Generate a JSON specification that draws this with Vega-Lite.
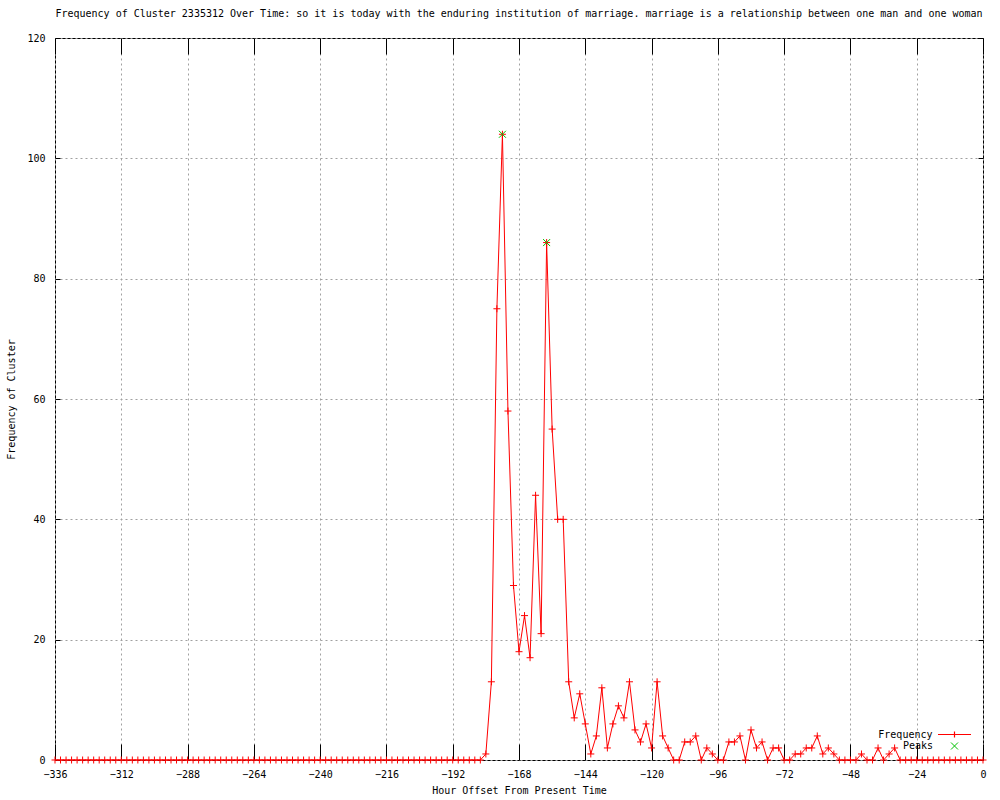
{
  "$schema": "https://vega.github.io/schema/vega-lite/v6.json",
  "width": 928,
  "height": 722,
  "autosize": {"type": "none"},
  "padding": {"left": 55, "top": 38, "right": 17, "bottom": 40},
  "background": "white",
  "title": {
    "text": "Frequency of Cluster 2335312 Over Time: so it is today with the enduring institution of marriage. marriage is a relationship between one man and one woman",
    "font": "DejaVu Sans Mono",
    "fontSize": 10,
    "fontWeight": "normal",
    "color": "black",
    "anchor": "middle",
    "frame": "group",
    "offset": 14
  },
  "config": {
    "view": {"stroke": "black", "strokeWidth": 1},
    "font": "DejaVu Sans Mono"
  },
  "datasets": {
    "freq": [
      {"hour": -336, "frequency": 0}, {"hour": -334, "frequency": 0}, {"hour": -332, "frequency": 0}, {"hour": -330, "frequency": 0},
      {"hour": -328, "frequency": 0}, {"hour": -326, "frequency": 0}, {"hour": -324, "frequency": 0}, {"hour": -322, "frequency": 0},
      {"hour": -320, "frequency": 0}, {"hour": -318, "frequency": 0}, {"hour": -316, "frequency": 0}, {"hour": -314, "frequency": 0},
      {"hour": -312, "frequency": 0}, {"hour": -310, "frequency": 0}, {"hour": -308, "frequency": 0}, {"hour": -306, "frequency": 0},
      {"hour": -304, "frequency": 0}, {"hour": -302, "frequency": 0}, {"hour": -300, "frequency": 0}, {"hour": -298, "frequency": 0},
      {"hour": -296, "frequency": 0}, {"hour": -294, "frequency": 0}, {"hour": -292, "frequency": 0}, {"hour": -290, "frequency": 0},
      {"hour": -288, "frequency": 0}, {"hour": -286, "frequency": 0}, {"hour": -284, "frequency": 0}, {"hour": -282, "frequency": 0},
      {"hour": -280, "frequency": 0}, {"hour": -278, "frequency": 0}, {"hour": -276, "frequency": 0}, {"hour": -274, "frequency": 0},
      {"hour": -272, "frequency": 0}, {"hour": -270, "frequency": 0}, {"hour": -268, "frequency": 0}, {"hour": -266, "frequency": 0},
      {"hour": -264, "frequency": 0}, {"hour": -262, "frequency": 0}, {"hour": -260, "frequency": 0}, {"hour": -258, "frequency": 0},
      {"hour": -256, "frequency": 0}, {"hour": -254, "frequency": 0}, {"hour": -252, "frequency": 0}, {"hour": -250, "frequency": 0},
      {"hour": -248, "frequency": 0}, {"hour": -246, "frequency": 0}, {"hour": -244, "frequency": 0}, {"hour": -242, "frequency": 0},
      {"hour": -240, "frequency": 0}, {"hour": -238, "frequency": 0}, {"hour": -236, "frequency": 0}, {"hour": -234, "frequency": 0},
      {"hour": -232, "frequency": 0}, {"hour": -230, "frequency": 0}, {"hour": -228, "frequency": 0}, {"hour": -226, "frequency": 0},
      {"hour": -224, "frequency": 0}, {"hour": -222, "frequency": 0}, {"hour": -220, "frequency": 0}, {"hour": -218, "frequency": 0},
      {"hour": -216, "frequency": 0}, {"hour": -214, "frequency": 0}, {"hour": -212, "frequency": 0}, {"hour": -210, "frequency": 0},
      {"hour": -208, "frequency": 0}, {"hour": -206, "frequency": 0}, {"hour": -204, "frequency": 0}, {"hour": -202, "frequency": 0},
      {"hour": -200, "frequency": 0}, {"hour": -198, "frequency": 0}, {"hour": -196, "frequency": 0}, {"hour": -194, "frequency": 0},
      {"hour": -192, "frequency": 0}, {"hour": -190, "frequency": 0}, {"hour": -188, "frequency": 0}, {"hour": -186, "frequency": 0},
      {"hour": -184, "frequency": 0}, {"hour": -182, "frequency": 0}, {"hour": -180, "frequency": 1}, {"hour": -178, "frequency": 13},
      {"hour": -176, "frequency": 75}, {"hour": -174, "frequency": 104}, {"hour": -172, "frequency": 58}, {"hour": -170, "frequency": 29},
      {"hour": -168, "frequency": 18}, {"hour": -166, "frequency": 24}, {"hour": -164, "frequency": 17}, {"hour": -162, "frequency": 44},
      {"hour": -160, "frequency": 21}, {"hour": -158, "frequency": 86}, {"hour": -156, "frequency": 55}, {"hour": -154, "frequency": 40},
      {"hour": -152, "frequency": 40}, {"hour": -150, "frequency": 13}, {"hour": -148, "frequency": 7}, {"hour": -146, "frequency": 11},
      {"hour": -144, "frequency": 6}, {"hour": -142, "frequency": 1}, {"hour": -140, "frequency": 4}, {"hour": -138, "frequency": 12},
      {"hour": -136, "frequency": 2}, {"hour": -134, "frequency": 6}, {"hour": -132, "frequency": 9}, {"hour": -130, "frequency": 7},
      {"hour": -128, "frequency": 13}, {"hour": -126, "frequency": 5}, {"hour": -124, "frequency": 3}, {"hour": -122, "frequency": 6},
      {"hour": -120, "frequency": 2}, {"hour": -118, "frequency": 13}, {"hour": -116, "frequency": 4}, {"hour": -114, "frequency": 2},
      {"hour": -112, "frequency": 0}, {"hour": -110, "frequency": 0}, {"hour": -108, "frequency": 3}, {"hour": -106, "frequency": 3},
      {"hour": -104, "frequency": 4}, {"hour": -102, "frequency": 0}, {"hour": -100, "frequency": 2}, {"hour": -98, "frequency": 1},
      {"hour": -96, "frequency": 0}, {"hour": -94, "frequency": 0}, {"hour": -92, "frequency": 3}, {"hour": -90, "frequency": 3},
      {"hour": -88, "frequency": 4}, {"hour": -86, "frequency": 0}, {"hour": -84, "frequency": 5}, {"hour": -82, "frequency": 2},
      {"hour": -80, "frequency": 3}, {"hour": -78, "frequency": 0}, {"hour": -76, "frequency": 2}, {"hour": -74, "frequency": 2},
      {"hour": -72, "frequency": 0}, {"hour": -70, "frequency": 0}, {"hour": -68, "frequency": 1}, {"hour": -66, "frequency": 1},
      {"hour": -64, "frequency": 2}, {"hour": -62, "frequency": 2}, {"hour": -60, "frequency": 4}, {"hour": -58, "frequency": 1},
      {"hour": -56, "frequency": 2}, {"hour": -54, "frequency": 1}, {"hour": -52, "frequency": 0}, {"hour": -50, "frequency": 0},
      {"hour": -48, "frequency": 0}, {"hour": -46, "frequency": 0}, {"hour": -44, "frequency": 1}, {"hour": -42, "frequency": 0},
      {"hour": -40, "frequency": 0}, {"hour": -38, "frequency": 2}, {"hour": -36, "frequency": 0}, {"hour": -34, "frequency": 1},
      {"hour": -32, "frequency": 2}, {"hour": -30, "frequency": 0}, {"hour": -28, "frequency": 0}, {"hour": -26, "frequency": 0},
      {"hour": -24, "frequency": 0}, {"hour": -22, "frequency": 0}, {"hour": -20, "frequency": 0}, {"hour": -18, "frequency": 0},
      {"hour": -16, "frequency": 0}, {"hour": -14, "frequency": 0}, {"hour": -12, "frequency": 0}, {"hour": -10, "frequency": 0},
      {"hour": -8, "frequency": 0}, {"hour": -6, "frequency": 0}, {"hour": -4, "frequency": 0}, {"hour": -2, "frequency": 0},
      {"hour": 0, "frequency": 0}
    ],
    "peaks": [
      {"hour": -174, "frequency": 104},
      {"hour": -158, "frequency": 86}
    ]
  },
  "layer": [
    {
      "data": {"name": "freq"},
      "mark": {"type": "line", "strokeWidth": 1, "interpolate": "linear", "color": "#ff0000"},
      "encoding": {
        "x": {
          "field": "hour", "type": "quantitative",
          "scale": {"domain": [-336, 0], "nice": false, "zero": false},
          "axis": {
            "orient": "bottom",
            "values": [-336, -312, -288, -264, -240, -216, -192, -168, -144, -120, -96, -72, -48, -24, 0],
            "format": "d",
            "labelFont": "DejaVu Sans Mono", "labelFontSize": 10, "labelColor": "black",
            "labelFlush": false, "labelOverlap": false,
            "ticks": true, "tickColor": "black", "tickSize": -16, "tickWidth": 1,
            "labelPadding": 25,
            "grid": true, "gridColor": "#a0a0a0", "gridDash": [2, 3], "gridWidth": 1,
            "domain": false,
            "title": "Hour Offset From Present Time",
            "titleFont": "DejaVu Sans Mono", "titleFontSize": 10, "titleFontWeight": "normal", "titleColor": "black",
            "titlePadding": 6
          }
        },
        "y": {
          "field": "frequency", "type": "quantitative",
          "scale": {"domain": [0, 120], "nice": false, "zero": true},
          "axis": {
            "orient": "left",
            "values": [0, 20, 40, 60, 80, 100, 120],
            "format": "d",
            "labelFont": "DejaVu Sans Mono", "labelFontSize": 10, "labelColor": "black",
            "labelFlush": false, "labelOverlap": false,
            "ticks": true, "tickColor": "black", "tickSize": -5, "tickWidth": 1,
            "labelPadding": 15,
            "grid": true, "gridColor": "#a0a0a0", "gridDash": [2, 3], "gridWidth": 1,
            "domain": false,
            "title": "Frequency of Cluster",
            "titleFont": "DejaVu Sans Mono", "titleFontSize": 10, "titleFontWeight": "normal", "titleColor": "black",
            "titlePadding": 10
          }
        }
      }
    },
    {
      "data": {"name": "freq"},
      "mark": {"type": "point", "shape": "M-1,0H1M0,-1V1", "size": 49, "filled": false, "strokeWidth": 1, "opacity": 1},
      "encoding": {
        "x": {"field": "hour", "type": "quantitative", "axis": null},
        "y": {"field": "frequency", "type": "quantitative", "axis": null},
        "color": {
          "datum": "Frequency",
          "scale": {"domain": ["Frequency"], "range": ["#ff0000"]},
          "legend": {
            "orient": "none", "legendX": 882, "legendY": 679,
            "title": null, "padding": 0, "symbolOffset": 0,
            "symbolType": "M-1,0H1M0,-0.18V0.18", "symbolSize": 1089, "symbolStrokeWidth": 1.2,
            "labelFont": "DejaVu Sans Mono", "labelFontSize": 10, "labelColor": "black",
            "labelAlign": "right", "labelOffset": -39.5
          }
        }
      }
    },
    {
      "data": {"name": "peaks"},
      "mark": {"type": "point", "filled": false, "size": 49, "color": "#00c000", "strokeWidth": 1, "opacity": 1},
      "encoding": {
        "x": {
          "field": "hour", "type": "quantitative",
          "axis": {
            "orient": "top",
            "values": [-336, -312, -288, -264, -240, -216, -192, -168, -144, -120, -96, -72, -48, -24, 0],
            "labels": false, "grid": false, "domain": false, "title": null,
            "ticks": true, "tickColor": "black", "tickSize": -16, "tickWidth": 1
          }
        },
        "y": {
          "field": "frequency", "type": "quantitative",
          "axis": {
            "orient": "right",
            "values": [0, 20, 40, 60, 80, 100, 120],
            "labels": false, "grid": false, "domain": false, "title": null,
            "ticks": true, "tickColor": "black", "tickSize": -5, "tickWidth": 1
          }
        },
        "shape": {
          "datum": "Peaks",
          "scale": {"domain": ["Peaks"], "range": ["M-1,-1L1,1M-1,1L1,-1"]},
          "legend": {
            "orient": "none", "legendX": 894.5, "legendY": 703,
            "title": null, "padding": 0, "symbolOffset": 0,
            "symbolSize": 49, "symbolStrokeWidth": 1, "symbolStrokeColor": "#00c000",
            "labelFont": "DejaVu Sans Mono", "labelFontSize": 10, "labelColor": "black",
            "labelAlign": "right", "labelOffset": -26.5
          }
        }
      }
    }
  ],
  "resolve": {"axis": {"x": "independent", "y": "independent"}}
}
